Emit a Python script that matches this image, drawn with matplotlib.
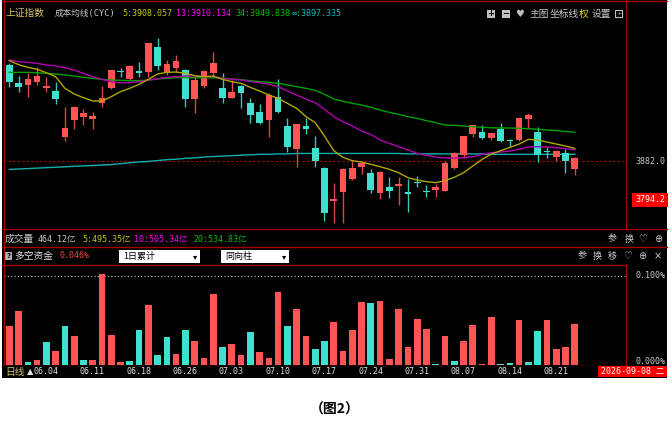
import matplotlib
matplotlib.use('Agg')
import matplotlib.pyplot as plt
import matplotlib.transforms as mtransforms
from matplotlib.patches import Rectangle
from matplotlib.lines import Line2D
import numpy as np

plt.rcParams['font.family'] = ['Noto Sans CJK SC', 'DejaVu Sans']
CJK = ['Noto Sans CJK SC', 'DejaVu Sans']
MONO = ['DejaVu Sans Mono', 'Noto Sans CJK SC']

# ---- 数据 (上证指数 日线, 2026-06-01 .. 08-26) ----
opens = [4098.9, 4058.3, 4053.8, 4059.8, 4046.3, 4038.8, 3936.8, 3974.3, 3981.8, 3977.3,
         4013.3, 4046.3, 4084.6, 4065.8, 4084.6, 4082.3, 4137.9, 4080.8, 4092.1, 4086.9,
         4021.6, 4050.8, 4080.8, 4045.6, 4024.6, 4050.8, 4013.3, 3992.3, 3974.3, 4025.3,
         3961.5, 3909.8, 3960.8, 3910.5, 3866.2, 3792.7, 3812.9, 3840.7, 3867.7, 3854.2,
         3809.2, 3824.2, 3825.7, 3811.4, 3834.7, 3813.7, 3817.4, 3815.2, 3865.5, 3895.5,
         3942.0, 3948.0, 3933.0, 3954.0, 3929.2, 3929.2, 3975.8, 3948.0, 3905.2, 3891.7,
         3900.7, 3863.2]
closes = [4060.6, 4049.3, 4065.8, 4073.3, 4050.8, 4021.6, 3957.0, 4004.3, 3989.3, 3982.5,
          4023.8, 4086.1, 4081.6, 4096.6, 4080.8, 4146.9, 4095.9, 4099.6, 4107.1, 4021.6,
          4064.3, 4083.8, 4101.9, 4023.1, 4037.3, 4034.3, 3985.5, 3968.3, 4030.6, 3993.0,
          3912.8, 3964.5, 3954.0, 3882.0, 3765.7, 3796.5, 3864.7, 3867.0, 3876.7, 3815.9,
          3858.0, 3814.4, 3829.5, 3806.9, 3832.5, 3811.4, 3823.5, 3878.2, 3900.7, 3938.2,
          3963.0, 3933.0, 3944.2, 3927.0, 3927.0, 3978.0, 3985.5, 3895.5, 3903.0, 3904.5,
          3882.7, 3888.0]
highs = [4101.9, 4073.3, 4079.3, 4094.4, 4071.8, 4060.6, 4002.8, 4005.8, 3998.3, 3993.0,
         4051.6, 4087.0, 4092.1, 4097.5, 4105.6, 4147.5, 4158.1, 4109.4, 4120.6, 4088.4,
         4071.8, 4086.9, 4128.1, 4080.8, 4064.3, 4052.0, 4023.1, 4010.3, 4034.3, 4065.8,
         3979.5, 3966.0, 3978.0, 3938.3, 3869.2, 3831.7, 3866.0, 3884.2, 3882.7, 3863.2,
         3859.0, 3845.2, 3846.7, 3840.7, 3848.2, 3827.9, 3830.2, 3882.7, 3903.0, 3939.0,
         3964.0, 3963.0, 3945.7, 3966.8, 3930.7, 3979.0, 3989.3, 3959.3, 3914.2, 3906.7,
         3908.2, 3891.7]
lows = [4047.8, 4038.1, 4026.8, 4053.1, 4036.6, 4010.3, 3927.0, 3954.0, 3963.0, 3954.8,
        4002.8, 4043.3, 4070.3, 4064.3, 4071.8, 4071.8, 4086.9, 4075.6, 4083.1, 4002.8,
        3989.3, 4045.6, 4068.1, 4013.3, 4023.1, 4000.5, 3968.3, 3965.3, 3936.8, 3990.8,
        3903.0, 3869.2, 3942.0, 3867.7, 3746.9, 3743.2, 3743.2, 3839.2, 3852.7, 3809.2,
        3795.7, 3799.4, 3782.9, 3767.9, 3824.2, 3800.2, 3801.7, 3814.0, 3864.7, 3888.0,
        3936.7, 3930.7, 3929.2, 3924.0, 3914.2, 3928.0, 3955.5, 3880.5, 3888.0, 3882.7,
        3855.7, 3851.2]

# 成本均线 CYC 5 / 13 / 34 / 无穷
cyc5 = [4107.9, 4098.9, 4092.9, 4088.4, 4080.8, 4071.8, 4045.6, 4032.8, 4024.6, 4017.1,
        4017.1, 4026.8, 4038.1, 4045.6, 4054.6, 4065.8, 4077.9, 4081.6, 4082.3, 4079.3,
        4074.1, 4071.8, 4073.3, 4065.8, 4060.6, 4056.8, 4047.8, 4039.6, 4030.6, 4023.1,
        4011.8, 4000.5, 3982.0, 3968.3, 3938.3, 3905.3, 3890.2, 3882.7, 3879.7, 3874.5,
        3869.2, 3863.2, 3855.7, 3844.5, 3839.2, 3835.5, 3833.2, 3837.7, 3845.2, 3855.7,
        3870.7, 3885.7, 3897.7, 3905.2, 3912.7, 3920.2, 3930.7, 3929.2, 3924.7, 3920.2,
        3915.7, 3910.5]
cyc13 = [4109.4, 4105.6, 4104.1, 4101.9, 4098.1, 4095.9, 4092.1, 4086.9, 4079.3, 4071.8,
         4065.8, 4060.6, 4058.3, 4058.3, 4060.6, 4064.3, 4067.3, 4070.3, 4071.8, 4073.3,
         4073.3, 4071.8, 4071.8, 4068.1, 4065.8, 4064.3, 4060.6, 4058.3, 4054.6, 4049.3,
         4039.6, 4030.6, 4021.6, 4013.3, 3998.3, 3981.8, 3970.5, 3960.8, 3949.5, 3942.0,
         3929.3, 3921.8, 3914.3, 3906.7, 3899.2, 3894.7, 3891.0, 3888.7, 3888.7, 3889.5,
         3891.7, 3897.0, 3900.7, 3902.2, 3904.5, 3908.2, 3913.5, 3914.2, 3913.5, 3912.0,
         3909.7, 3907.5]
cyc34 = [4081.6, 4081.6, 4081.6, 4080.8, 4079.3, 4077.9, 4075.6, 4073.3, 4070.3, 4068.1,
         4065.8, 4064.3, 4063.6, 4062.8, 4062.8, 4064.3, 4066.6, 4068.1, 4069.6, 4069.6,
         4069.6, 4069.6, 4069.6, 4068.8, 4066.6, 4065.1, 4062.8, 4060.6, 4059.1, 4056.8,
         4053.1, 4049.3, 4045.6, 4041.1, 4032.1, 4021.6, 4016.3, 4011.8, 4008.1, 4002.8,
         3996.8, 3991.6, 3987.0, 3981.8, 3978.0, 3972.8, 3968.3, 3963.0, 3962.3, 3960.8,
         3959.3, 3957.8, 3957.0, 3956.3, 3956.3, 3955.5, 3954.8, 3953.3, 3951.8, 3950.3,
         3948.7, 3946.5]
cyc_inf = [3863, 3864, 3865, 3866, 3867, 3868, 3869, 3870, 3871, 3872,
           3873, 3874, 3876, 3878, 3880, 3881, 3883, 3885, 3886, 3888,
           3889, 3891, 3892, 3893, 3894, 3895, 3896, 3897, 3897, 3898,
           3898, 3899, 3899, 3899, 3899, 3899, 3899, 3899, 3899, 3899,
           3899, 3899, 3899, 3898, 3898, 3898, 3898, 3898, 3898, 3898,
           3898, 3898, 3897, 3897, 3897, 3897, 3897, 3897, 3897, 3897,
           3897, 3897]

# 多空资金 (%), 负值 = 空方 (青色)
flow = [0.0440, 0.0608, -0.0034, 0.0060, -0.0257, 0.0160, -0.0433, 0.0325, -0.0060, 0.0052,
        0.1022, 0.0332, 0.0034, -0.0045, -0.0388, 0.0668, -0.0108, -0.0317, 0.0119, -0.0396,
        0.0272, 0.0075, 0.0791, -0.0201, 0.0235, 0.0112, -0.0369, 0.0142, 0.0082, 0.0821,
        -0.0440, 0.0631, 0.0325, -0.0175, -0.0272, 0.0478, 0.0160, 0.0396, 0.0701, -0.0694,
        0.0716, 0.0067, 0.0623, 0.0198, 0.0511, 0.0403, -0.0015, 0.0321, -0.0045, 0.0269,
        0.0444, 0.0015, 0.0534, -0.0015, -0.0022, 0.0504, -0.0030, -0.0381, 0.0504, 0.0183,
        0.0205, 0.0459]

tick_idx = [3, 8, 13, 18, 23, 28, 33, 38, 43, 48, 53, 58]
tick_lbl = ['06.04', '06.11', '06.18', '06.26', '07.03', '07.10',
            '07.17', '07.24', '07.31', '08.07', '08.14', '08.21']

last_price = 3882.0
cursor_price = 3794.2

# ---- 颜色 ----
RED = '#ff5454'
CYAN = '#40e0d0'
FRAME = '#a00000'
GREY = '#c8c8c8'

W, H = 672, 430
fig = plt.figure(figsize=(W / 100, H / 100), dpi=100, facecolor='white')


def fx(x):
    return x / W


def fy(y):
    return 1 - y / H


def box(x0, y0, x1, y1, fc, z=-1, ec='none'):
    fig.add_artist(Rectangle((fx(x0), fy(y1)), (x1 - x0) / W, (y1 - y0) / H,
                             transform=fig.transFigure, facecolor=fc,
                             edgecolor=ec, lw=0.8, zorder=z))


def line(xs, ys, color=FRAME, lw=1.0, z=2, **kw):
    fig.add_artist(Line2D([fx(v) for v in xs], [fy(v) for v in ys],
                          transform=fig.transFigure, color=color, lw=lw,
                          zorder=z, **kw))


def label(x, y, s, color=GREY, size=7, fam=CJK, ha='left', z=3, **kw):
    fig.text(fx(x), fy(y), s, color=color, fontsize=size, family=fam,
             ha=ha, va='center', zorder=z, **kw)


# 背景
box(2, 0, 667, 378, 'black', z=-5)

# ---- 主图 ----
x = np.arange(len(opens))
o = np.array(opens)
c = np.array(closes)
up = c >= o

ax = fig.add_axes([fx(4), fy(229), (626 - 4) / W, (229 - 2) / H])
ax.patch.set_alpha(0)
ax.axis('off')
# 9.27 px per bar, first bar centre 9.3 px
ax.set_xlim((4 - 9.3) / 9.27, (626 - 9.3) / 9.27)
ppx = (last_price - cursor_price) / (200 - 161)
ax.set_ylim(last_price - (229 - 161) * ppx, last_price + (161 - 2) * ppx)

ax.axhline(last_price, color=FRAME, lw=0.8, ls=(0, (2, 2)), zorder=1)
ax.plot(x, cyc_inf, color='#10b0b0', lw=1.0, zorder=2)
ax.vlines(x, lows, highs, colors=np.where(up, '#d84848', '#38c8b8'), lw=1.0, zorder=3)
ax.bar(x, np.maximum(np.abs(c - o), 1.5), bottom=np.minimum(o, c), width=0.72,
       color=np.where(up, RED, CYAN), lw=0, zorder=4)
ax.plot(x, cyc34, color='#00a000', lw=1.0, zorder=5)
ax.plot(x, cyc13, color='#b000b0', lw=1.0, zorder=5)
ax.plot(x, cyc5, color='#b0a800', lw=1.0, zorder=6)

# 右侧价格
ty = mtransforms.blended_transform_factory(fig.transFigure, ax.transData)
ax.text(fx(665), last_price, f'{last_price:.1f}', transform=ty, ha='right', va='center',
        color=GREY, fontsize=6, family=MONO, clip_on=False)
ax.text(fx(665), cursor_price, f'{cursor_price:.1f}', transform=ty, ha='right', va='center',
        color='white', fontsize=6, family=MONO, clip_on=False,
        bbox=dict(boxstyle='square,pad=0.35', fc='#ff0000', ec='none'))

# 标题行
label(6, 13, '上证指数', color='#d8c470')
label(55, 13, '成本均线(CYC)', fam=MONO, size=6.2)
label(122, 13, '5:3908.057', color='#c8c800', fam=MONO, size=6)
label(176, 13, '13:3910.134', color='#ff00ff', fam=MONO, size=6)
label(235, 13, '34:3949.838', color='#00c000', fam=MONO, size=6)
label(292, 13, '∞:3897.335', color='#00c0c0', fam=MONO, size=6)

box(487, 10, 495, 18, '#c0c0c0', z=2)
label(491, 14, '+', color='black', size=6, fam=['DejaVu Sans'], ha='center', weight='bold')
box(502, 10, 510, 18, '#c0c0c0', z=2)
label(506, 14, '−', color='black', size=6, fam=['DejaVu Sans'], ha='center', weight='bold')
label(520, 14, '♥', color='#c0c0c0', size=7, fam=['DejaVu Sans'], ha='center')
label(529, 14, '主图')
label(550, 14, '坐标线')
label(579, 14, '权', color='#e0e000')
label(592, 14, '设置')
box(615, 10, 622, 17, 'none', z=2, ec='#c0c0c0')
label(618.5, 13.5, '+', color='#c0c0c0', size=4.5, fam=['DejaVu Sans'], ha='center')

# ---- 成交量 / 多空资金 标题行 ----
label(5, 239, '成交量')
label(38, 239, '464.12亿', fam=MONO, size=6)
label(82, 239, '5:495.35亿', color='#c8c800', fam=MONO, size=6)
label(134, 239, '10:505.34亿', color='#ff00ff', fam=MONO, size=6)
label(193, 239, '20:534.83亿', color='#00c000', fam=MONO, size=6)
for xx, s in [(608, '参'), (625, '换')]:
    label(xx, 239, s, size=6.5)
label(642, 239, '♡', size=7, fam=['DejaVu Sans'], ha='center')
label(658, 239, '⊕', size=7, fam=['DejaVu Sans'], ha='center')

box(5, 252, 12, 260, '#b0b0b0', z=2)
label(8.5, 256, '?', color='black', size=5, fam=['DejaVu Sans'], ha='center', weight='bold')
label(14, 256, '多空资金', color='#e0e0e0')
label(60, 256, f'{flow[-1]:.3f}%', color='#ff4040', fam=MONO, size=6)
box(119, 250, 200, 263, 'white', z=2)
label(123, 256.5, '1日累计', color='black', size=6.5, z=4)
label(195, 256.5, '▾', color='black', size=6, fam=['DejaVu Sans'], ha='center', z=4)
box(221, 250, 289, 263, 'white', z=2)
label(225, 256.5, '同向柱', color='black', size=6.5, z=4)
label(284, 256.5, '▾', color='black', size=6, fam=['DejaVu Sans'], ha='center', z=4)
for xx, s in [(578, '参'), (593, '换'), (608, '移')]:
    label(xx, 256, s, size=6.5)
label(627, 256, '♡', size=7, fam=['DejaVu Sans'], ha='center')
label(642, 256, '⊕', size=7, fam=['DejaVu Sans'], ha='center')
label(658, 256, '×', size=7, fam=['DejaVu Sans'], ha='center')

# ---- 多空资金 副图 ----
f = np.array(flow)
ax2 = fig.add_axes([fx(4), fy(366), (626 - 4) / W, (366 - 265) / H])
ax2.patch.set_alpha(0)
ax2.axis('off')
ax2.set_xlim(ax.get_xlim())
ppx2 = 0.1 / (365 - 275.7)
ax2.set_ylim(-(366 - 365) * ppx2, (365 - 265) * ppx2)
ax2.bar(x, np.abs(f), width=0.72, color=np.where(f >= 0, RED, CYAN), lw=0, zorder=3)
ax2.axhline(0.1, color='#c8c8c8', lw=0.8, ls=(0, (1, 2)), zorder=2)
ty2 = mtransforms.blended_transform_factory(fig.transFigure, ax2.transData)
ax2.text(fx(636), 0.1, '0.100%', transform=ty2, ha='left', va='center', color=GREY,
         fontsize=6, family=MONO, clip_on=False)
label(636, 361, '0.000%', fam=MONO, size=6, z=1)

# ---- 边框 ----
line([2, 667], [1, 1])
line([3.5, 3.5], [0, 366])
line([626, 626], [0, 229])
line([626, 626], [264.5, 366])
line([2, 667], [229, 229])
line([2, 667], [247, 247])
line([2, 626], [264.5, 264.5])
line([2, 626], [365.5, 365.5])

# ---- 日期轴 ----
box(2, 366, 667, 378, 'black', z=5)
label(5, 372, '日线', color='#c8c864', size=7, z=6)
tx = mtransforms.blended_transform_factory(ax2.transData, fig.transFigure)
for i, s in zip(tick_idx, tick_lbl):
    fig.text(i - 0.38, fy(372), s, transform=tx, ha='left', va='center', color='#e0e0e0',
             fontsize=6, family=MONO, zorder=6)
fig.text(tick_idx[0] - 0.38, fy(372), '▲', transform=tx, ha='right', va='center',
         color='#e0e0e0', fontsize=6, family=['DejaVu Sans'], zorder=6)
box(598, 366, 667, 377, '#ff0000', z=6)
label(601, 371.7, '2026-09-08 二', color='white', fam=MONO, size=6, z=7)

# 图注
fig.text(fx(335), fy(410), '（图2）', ha='center', va='center', fontsize=10,
         family=CJK, weight='bold', color='black')

fig.savefig('out.png', dpi=100, facecolor='white')
